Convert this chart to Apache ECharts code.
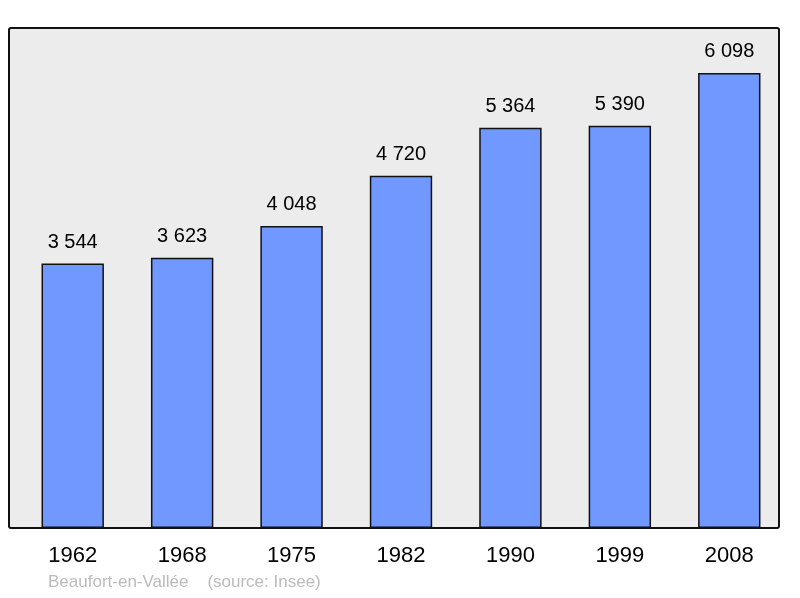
<!DOCTYPE html>
<html>
<head>
<meta charset="utf-8">
<script src="https://cdn.jsdelivr.net/npm/echarts@6/dist/echarts.min.js"></script>
<style>html,body{margin:0;padding:0;background:#fff}#chart{width:800px;height:598px}</style>
</head>
<body>
<div id="chart"></div>
<script>
const years = ['1962', '1968', '1975', '1982', '1990', '1999', '2008'];
const population = [3544, 3623, 4048, 4720, 5364, 5390, 6098];
const footer = 'Beaufort-en-Vallée    (source: Insee)';

const chart = echarts.init(document.getElementById('chart'));
chart.setOption({
    animation: false,
    grid: {left: 18, right: 16, top: 28, bottom: 70},
    xAxis: {
        type: 'category',
        data: years,
        axisLine: {show: false},
        axisTick: {show: false},
        axisLabel: {fontFamily: 'Liberation Sans', fontSize: 22, color: '#000', margin: 17}
    },
    yAxis: {type: 'value', min: 0, max: 6700, show: false},
    series: [{
        type: 'bar',
        data: population,
        barWidth: '57%',
        itemStyle: {color: '#7098ff', borderColor: '#111', borderWidth: 1.5},
        label: {
            show: true,
            position: 'top',
            distance: 11,
            fontFamily: 'Liberation Sans',
            fontSize: 20,
            color: '#000',
            formatter: p => String(p.value).replace(/\B(?=(\d{3})+(?!\d))/g, ' ')
        }
    }],
    graphic: [{
        type: 'rect',
        z: -10,
        shape: {x: 9, y: 28, width: 770, height: 500, r: 2},
        style: {fill: '#ececec', stroke: '#111', lineWidth: 2}
    }, {
        type: 'text',
        left: 48,
        top: 574,
        style: {text: footer, fill: '#bbbbbb', fontFamily: 'Liberation Sans', fontSize: 17}
    }]
});
</script>
</body>
</html>
